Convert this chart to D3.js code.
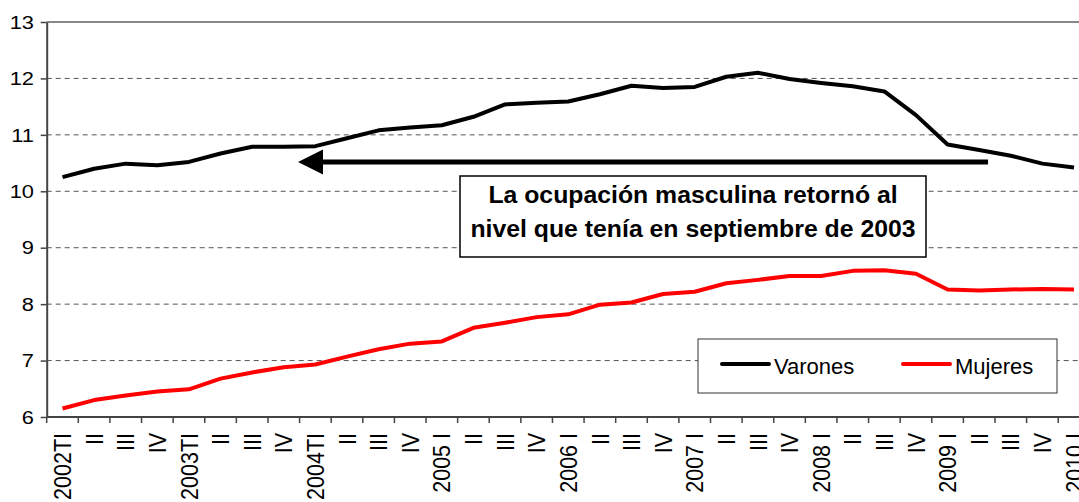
<!DOCTYPE html>
<html>
<head>
<meta charset="utf-8">
<script src="https://cdn.jsdelivr.net/npm/d3@7"></script>
<style>
  body { margin: 0; background: #fff; }
  svg { display: block; font-family: "Liberation Sans", Arial, sans-serif; }
</style>
</head>
<body>
<svg id="chart" width="1079" height="502"></svg>
<script>
// Ocupación por sexo, trimestres 2002-2010

var quarters = ["2002TI", "II", "III", "IV", "2003TI", "II", "III", "IV",
  "2004TI", "II", "III", "IV", "2005 I", "II", "III", "IV", "2006 I", "II", "III", "IV",
  "2007 I", "II", "III", "IV", "2008 I", "II", "III", "IV", "2009 I", "II", "III", "IV", "2010 I"];

var varones = [10.25, 10.40, 10.49, 10.46, 10.52, 10.67, 10.79, 10.79, 10.80, 10.94,
  11.08, 11.13, 11.17, 11.32, 11.54, 11.57, 11.59, 11.72, 11.87, 11.83,
  11.85, 12.03, 12.10, 11.99, 11.92, 11.86, 11.77, 11.35, 10.83, 10.73,
  10.63, 10.49, 10.42];

var mujeres = [6.15, 6.30, 6.38, 6.45, 6.49, 6.68, 6.79, 6.88, 6.93, 7.07,
  7.20, 7.30, 7.34, 7.58, 7.67, 7.77, 7.82, 7.99, 8.03, 8.18,
  8.22, 8.37, 8.43, 8.50, 8.50, 8.59, 8.60, 8.54, 8.26, 8.24,
  8.26, 8.27, 8.26];

var yTicks = [6, 7, 8, 9, 10, 11, 12, 13];

var svg = d3.select("#chart");
var plotLeft = 46.7, plotTop = 22, plotBottom = 417;
var step = 31.61;

var x = d3.scaleBand()
  .domain(d3.range(quarters.length))
  .range([plotLeft, plotLeft + step * quarters.length]);

var y = d3.scaleLinear().domain([6, 13]).range([plotBottom, plotTop]);

function cx(i) {
  return x(i) + x.bandwidth() / 2;
}

// gridlines
svg.append("g")
  .selectAll("line")
  .data(yTicks.filter(function (d) { return d > 6 && d < 13; }))
  .enter()
  .append("line")
  .attr("x1", plotLeft)
  .attr("x2", 1079)
  .attr("y1", function (d) { return y(d); })
  .attr("y2", function (d) { return y(d); })
  .attr("stroke", "#555")
  .attr("stroke-width", 1)
  .attr("stroke-dasharray", "5,4");

// top border
svg.append("line")
  .attr("x1", plotLeft).attr("x2", 1079)
  .attr("y1", y(13)).attr("y2", y(13))
  .attr("stroke", "#888")
  .attr("stroke-width", 2);

// y axis
var yAxis = svg.append("g")
  .attr("transform", "translate(" + plotLeft + ",0)")
  .call(d3.axisLeft(y).tickValues(yTicks).tickSize(6).tickSizeOuter(0).tickFormat(""));
yAxis.select(".domain").attr("stroke", "#444").attr("stroke-width", 2);
yAxis.selectAll(".tick line").attr("stroke", "#444").attr("stroke-width", 1.5);

svg.append("g")
  .selectAll("text")
  .data(yTicks)
  .enter()
  .append("text")
  .attr("transform", function (d) {
    return "translate(34," + y(d) + ") scale(1.15,1)";
  })
  .attr("text-anchor", "end")
  .attr("dy", "0.35em")
  .attr("font-size", "19px")
  .attr("fill", "#000")
  .text(function (d) { return d; });

// x axis
var xAxis = svg.append("g")
  .attr("transform", "translate(0," + plotBottom + ")");
xAxis.append("line")
  .attr("x1", plotLeft).attr("x2", 1079)
  .attr("stroke", "#444")
  .attr("stroke-width", 2);
xAxis.selectAll(".xtick")
  .data(d3.range(quarters.length + 1))
  .enter()
  .append("line")
  .attr("class", "xtick")
  .attr("x1", function (i) { return plotLeft + step * i; })
  .attr("x2", function (i) { return plotLeft + step * i; })
  .attr("y1", 0)
  .attr("y2", 6)
  .attr("stroke", "#444")
  .attr("stroke-width", 1.5);

svg.append("g")
  .selectAll("text")
  .data(quarters)
  .enter()
  .append("text")
  .attr("transform", function (d, i) {
    return "translate(" + cx(i) + ",433) scale(1.15,1) rotate(-90)";
  })
  .attr("text-anchor", "end")
  .attr("dy", "0.35em")
  .attr("font-size", "21.5px")
  .attr("fill", "#000")
  .text(function (d) { return d; });

// series lines
var line = d3.line()
  .x(function (d, i) { return cx(i); })
  .y(function (d) { return y(d); });

svg.append("path")
  .datum(varones)
  .attr("d", line)
  .attr("fill", "none")
  .attr("stroke", "#000")
  .attr("stroke-width", 4)
  .attr("stroke-linejoin", "round");

svg.append("path")
  .datum(mujeres)
  .attr("d", line)
  .attr("fill", "none")
  .attr("stroke", "#ff0000")
  .attr("stroke-width", 4)
  .attr("stroke-linejoin", "round");

// arrow annotation
var arrowY = y(10.52);
var arrowTip = plotLeft + step * 7.95;
var arrowEnd = plotLeft + step * 29.78;
svg.append("line")
  .attr("x1", arrowTip + 20)
  .attr("x2", arrowEnd)
  .attr("y1", arrowY)
  .attr("y2", arrowY)
  .attr("stroke", "#000")
  .attr("stroke-width", 5);
svg.append("path")
  .attr("d", "M" + arrowTip + "," + arrowY +
    " L" + (arrowTip + 25) + "," + (arrowY - 12.5) +
    " L" + (arrowTip + 25) + "," + (arrowY + 12.5) + " Z")
  .attr("fill", "#000");

// text box
svg.append("rect")
  .attr("x", 460)
  .attr("y", 176)
  .attr("width", 466)
  .attr("height", 81)
  .attr("fill", "#fff")
  .attr("stroke", "#000")
  .attr("stroke-width", 1.5);

var note = ["La ocupación masculina retornó al", "nivel que tenía en septiembre de 2003"];
svg.append("g")
  .selectAll("text")
  .data(note)
  .enter()
  .append("text")
  .attr("x", 693)
  .attr("y", function (d, i) { return 203 + i * 34; })
  .attr("text-anchor", "middle")
  .attr("font-size", "24.8px")
  .attr("font-weight", "bold")
  .attr("fill", "#000")
  .text(function (d) { return d; });

// legend
var legend = svg.append("g");
legend.append("rect")
  .attr("x", 698)
  .attr("y", 339)
  .attr("width", 359)
  .attr("height", 54)
  .attr("fill", "#fff")
  .attr("stroke", "#333")
  .attr("stroke-width", 1);

var series = [
  { name: "Varones", color: "#000" },
  { name: "Mujeres", color: "#ff0000" }
];

var item = legend.selectAll(".item")
  .data(series)
  .enter()
  .append("g")
  .attr("class", "item")
  .attr("transform", function (d, i) {
    return "translate(" + (722 + i * 181) + ",364)";
  });

item.append("line")
  .attr("x1", 0)
  .attr("x2", 47)
  .attr("stroke", function (d) { return d.color; })
  .attr("stroke-width", 4)
  .attr("stroke-linecap", "round");

item.append("text")
  .attr("x", 52)
  .attr("y", 10)
  .attr("font-size", "22px")
  .attr("fill", "#000")
  .text(function (d) { return d.name; });
</script>
</body>
</html>
